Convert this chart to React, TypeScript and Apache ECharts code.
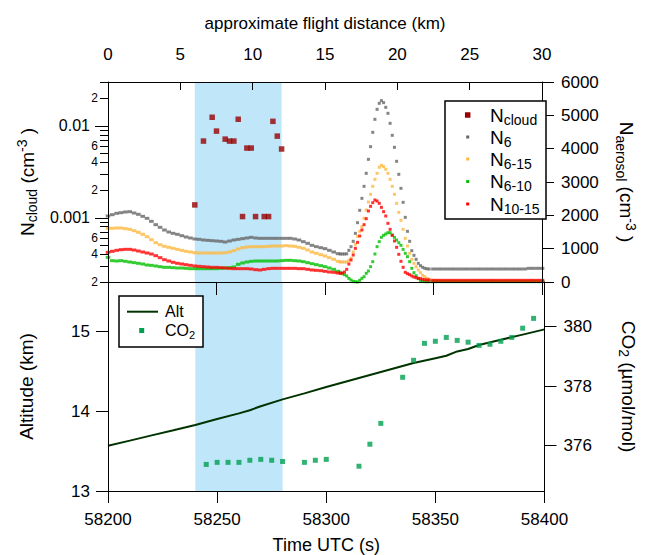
import React, { useEffect, useRef } from 'react';
import * as echarts from 'echarts';

// ---------- data ----------
// N_cloud (cm^-3), 2DS cloud particle counts
const cloudTime = [58240, 58244, 58248, 58250, 58254, 58256, 58258, 58260, 58262, 58264, 58266, 58268, 58272, 58274, 58276, 58278, 58280];
const cloudValue = [0.00138, 0.00683, 0.0124, 0.00877, 0.00717, 0.00683, 0.00683, 0.0118, 0.00103, 0.00573, 0.00573, 0.00103, 0.00103, 0.00103, 0.0112, 0.00773, 0.0056];

// aerosol time grid (s): 2 s before the event, 1 s during it, 2 s after
function range(a: number, b: number, step: number) {
  const r: number[] = [];
  for (let v = a; v <= b; v += step) r.push(v);
  return r;
}
const aerosolTime = [...range(58200, 58306, 2), ...range(58307, 58348, 1), ...range(58350, 58400, 2)];

const n6 = [
  1980, 2020, 2060, 2080, 2100, 2110, 2070, 2030, 1970, 1910, 1820, 1720, 1640, 1560, 1500, 1460, 1430, 1390, 1350, 1320,
  1290, 1280, 1260, 1250, 1240, 1230, 1220, 1200, 1230, 1260, 1280, 1300, 1320, 1340, 1320, 1310, 1310, 1310, 1310, 1310,
  1310, 1310, 1310, 1290, 1260, 1210, 1160, 1100, 1060, 1030, 1000, 950, 900, 850,
  840, 840, 840, 845, 950, 1060, 1220, 1460, 1780, 2150, 2510, 2870, 3260, 3680, 4060, 4490, 4880, 5180, 5360, 5440,
  5380, 5240, 5060, 4760, 4400, 4040, 3620, 3230, 2810, 2390, 1940, 1520, 1220, 940, 800, 680, 560, 490, 440, 410, 395, 390,
  390, 390, 390, 390, 390, 390, 390, 390, 390, 390, 390, 390, 390, 390, 390, 390, 390, 390, 390, 390, 390, 390, 410, 410, 410, 410,
];
const n615 = [
  1610, 1610, 1620, 1620, 1600, 1580, 1540, 1490, 1430, 1360, 1270, 1180, 1120, 1070, 1040, 1010, 980, 950, 920, 900,
  880, 870, 870, 870, 870, 870, 870, 880, 900, 940, 990, 1030, 1050, 1060, 1060, 1060, 1060, 1070, 1080, 1080,
  1080, 1090, 1080, 1070, 1040, 1010, 960, 900, 860, 820, 780, 730, 680, 620,
  600, 600, 600, 600, 650, 710, 900, 1130, 1370, 1520, 1660, 1910, 2160, 2400, 2630, 2870, 3080, 3260, 3440, 3500,
  3460, 3380, 3260, 3080, 2870, 2630, 2360, 2090, 1850, 1580, 1310, 1080, 860, 680, 560, 460, 360, 280, 200, 160, 110, 80,
  50, 40, 30, 30, 30, 30, 30, 30, 30, 30, 30, 30, 30, 30, 30, 30, 30, 30, 30, 30, 30, 30, 30, 30, 30, 30,
];
const n610 = [
  740, 640, 630, 640, 620, 600, 580, 560, 540, 510, 500, 480, 460, 440, 440, 430, 420, 420, 410, 400,
  400, 400, 400, 400, 400, 400, 410, 420, 430, 450, 530, 570, 600, 620, 630, 630, 630, 630, 630, 630,
  640, 650, 650, 640, 630, 610, 580, 550, 520, 490, 460, 420, 380, 320,
  280, 250, 220, 180, 110, 60, 20, 8, 0, 50, 110, 160, 260, 330, 460, 610, 840, 1060, 1210, 1340,
  1400, 1440, 1480, 1480, 1410, 1340, 1260, 1180, 1100, 980, 860, 760, 610, 410, 280, 190, 100, 40, 20, 10, 10, 10,
  10, 10, 10, 10, 10, 10, 10, 10, 10, 10, 10, 10, 10, 10, 10, 10, 10, 10, 10, 10, 10, 10, 10, 10, 10, 10,
];
const n1015 = [
  890, 920, 950, 970, 980, 980, 960, 930, 900, 870, 840, 790, 730, 670, 630, 590, 560, 540, 520, 500,
  480, 470, 460, 450, 440, 440, 430, 420, 410, 400, 400, 400, 400, 390, 370, 360, 380, 400, 410, 410,
  410, 410, 410, 410, 400, 400, 380, 360, 350, 340, 320, 300, 290, 270,
  260, 270, 300, 380, 540, 660, 810, 1010, 1190, 1380, 1560, 1720, 1900, 2130, 2270, 2380, 2460, 2430, 2360, 2240,
  2110, 1980, 1760, 1580, 1400, 1230, 1040, 830, 620, 440, 290, 250, 220, 180, 150, 130, 110, 100, 80, 70, 60, 60,
  50, 50, 50, 50, 50, 50, 50, 50, 50, 50, 50, 50, 50, 50, 50, 50, 50, 50, 50, 50, 50, 50, 50, 50, 50, 50,
];

// altitude (km)
const altTime = [58200, 58210, 58220, 58230, 58240, 58250, 58260, 58265, 58268, 58270, 58280, 58290, 58300, 58310, 58320, 58330, 58340, 58350, 58355, 58360, 58365, 58370, 58380, 58390, 58400];
const altValue = [13.566, 13.63, 13.695, 13.76, 13.826, 13.9, 13.97, 14.01, 14.04, 14.06, 14.145, 14.22, 14.3, 14.375, 14.45, 14.525, 14.6, 14.66, 14.69, 14.745, 14.775, 14.825, 14.89, 14.955, 15.02];

// CO2 (umol/mol)
const co2Time = [58245, 58250, 58255, 58260, 58265, 58270, 58275, 58280, 58290, 58295, 58300, 58315, 58320, 58325, 58335, 58340, 58345, 58350, 58355, 58360, 58365, 58370, 58375, 58380, 58385, 58390, 58395];
const co2Value = [375.37, 375.44, 375.44, 375.44, 375.51, 375.54, 375.51, 375.47, 375.44, 375.51, 375.54, 375.31, 376.05, 376.75, 378.3, 378.87, 379.44, 379.51, 379.64, 379.54, 379.48, 379.37, 379.41, 379.51, 379.64, 379.95, 380.28];

// shaded cloud interval (s)
const cloudBand = [58240, 58280];

// axis ticks / labels
const logLabelValues = [2e-4, 4e-4, 6e-4, 1e-3, 2e-3, 4e-3, 6e-3, 1e-2, 2e-2];
const logLabelTexts = ['2', '4', '6', '0.001', '2', '4', '6', '0.01', '2'];
const logMinorTicks = [2e-4, 3e-4, 4e-4, 5e-4, 6e-4, 7e-4, 8e-4, 9e-4, 1e-3, 2e-3, 3e-3, 4e-3, 5e-3, 6e-3, 7e-3, 8e-3, 9e-3, 1e-2, 2e-2, 3e-2];
const logMajorTicks = [1e-3, 1e-2];
const logRange = [2e-4, 0.03];
const altTicks = [13, 14, 15];
const altRange = [13, 15.6125];
const co2Ticks = [376, 378, 380];
const co2Range = [374.477, 381.503];

// ---------- styles ----------
const FONT = '"Liberation Sans", Arial, Helvetica, sans-serif';
const BLACK = '#000000';
const C_CLOUD = '#990000';
const C_N6 = '#666666';
const C_N615 = '#FFB83F';
const C_N610 = '#00C000';
const C_N1015 = '#FF0000';
const C_ALT = '#003300';
const C_CO2 = '#00A050';
const C_BAND = '#BFE6F9';

const L = Math.log10;
const plain = (v: number) => String(v);

const subRich = (size: number, sub: number, shift: number) => ({
  n: { fontSize: size, fontFamily: FONT, color: BLACK },
  s: { fontSize: sub, fontFamily: FONT, color: BLACK, padding: [shift, 0, 0, 0] },
  p: { fontSize: sub, fontFamily: FONT, color: BLACK, padding: [0, 0, shift, 0] },
});

const axisLineStyle = { show: true, onZero: false, lineStyle: { color: BLACK, width: 1 } };

function buildOption() {
  const pair = (vals: number[]) => aerosolTime.map((t, i) => [t, vals[i]]);
  const aerosolSize = (v: number[]) => (v[0] >= 58307 && v[0] <= 58348 ? 3 : [4.6, 3]);
  const aerosolSeries = (name: string, vals: number[], color: string) => ({
    name,
    type: 'scatter',
    xAxisIndex: 0,
    yAxisIndex: 2,
    symbol: 'rect',
    symbolSize: aerosolSize,
    itemStyle: { color },
    data: pair(vals),
    z: 3,
  });

  const legendRich = subRich(19, 14, 9);
  const topLegendRows = [
    { label: '{n|N}{s|cloud}', color: C_CLOUD, size: 5.5, y: 115 },
    { label: '{n|N}{s|6}', color: C_N6, size: 3, y: 137 },
    { label: '{n|N}{s|6-15}', color: C_N615, size: 3, y: 159 },
    { label: '{n|N}{s|6-10}', color: C_N610, size: 3, y: 181.5 },
    { label: '{n|N}{s|10-15}', color: C_N1015, size: 3, y: 204 },
  ];

  const graphic: any[] = [
    {
      type: 'rect', z: 100, shape: { x: 445, y: 101, width: 101, height: 118 },
      style: { fill: '#ffffff', stroke: BLACK, lineWidth: 1.5 },
    },
    ...topLegendRows.flatMap((r) => [
      {
        type: 'rect', z: 101,
        shape: { x: 467.7 - r.size / 2, y: r.y - r.size / 2, width: r.size, height: r.size },
        style: { fill: r.color },
      },
      {
        type: 'text', z: 101, x: 490, y: r.y,
        style: { text: r.label, rich: legendRich, verticalAlign: 'middle', align: 'left', fontFamily: FONT },
      },
    ]),
    {
      type: 'rect', z: 100, shape: { x: 119, y: 296, width: 84, height: 51 },
      style: { fill: '#ffffff', stroke: BLACK, lineWidth: 1.5 },
    },
    {
      type: 'line', z: 101, shape: { x1: 127, y1: 311.7, x2: 158, y2: 311.7 },
      style: { stroke: C_ALT, lineWidth: 2 },
    },
    {
      type: 'text', z: 101, x: 165, y: 311.7,
      style: { text: '{n|Alt}', rich: subRich(16, 11, 8), verticalAlign: 'middle', align: 'left' },
    },
    {
      type: 'rect', z: 101, shape: { x: 139.2, y: 328, width: 5, height: 5 },
      style: { fill: C_CO2 },
    },
    {
      type: 'text', z: 101, x: 165, y: 330.5,
      style: { text: '{n|CO}{s|2}', rich: subRich(16, 11, 8), verticalAlign: 'middle', align: 'left' },
    },
  ];

  const labelText = (v: number) => {
    for (let i = 0; i < logLabelValues.length; i++) {
      if (Math.abs(L(logLabelValues[i]) - v) < 1e-6) {
        const t = logLabelTexts[i];
        return t.indexOf('.') >= 0 ? `{maj|${t}}` : `{mn|${t}}`;
      }
    }
    return '';
  };

  return {
    animation: false,
    backgroundColor: '#ffffff',
    textStyle: { fontFamily: FONT, color: BLACK },
    grid: [
      { left: 108, top: 82, width: 437, height: 200, containLabel: false },
      { left: 108, top: 282, width: 437, height: 209, containLabel: false },
    ],
    xAxis: [
      {
        gridIndex: 0, type: 'value', position: 'bottom', min: 58200, max: 58400, interval: 50, z: 5,
        axisLine: axisLineStyle,
        axisTick: { show: true, inside: false, length: 13, lineStyle: { color: BLACK } },
        axisLabel: { show: false },
        splitLine: { show: false },
      },
      {
        gridIndex: 0, type: 'value', position: 'top', min: 0, max: 30, interval: 5, z: 5,
        axisLine: axisLineStyle,
        axisTick: { show: true, inside: true, length: 8, lineStyle: { color: BLACK } },
        axisLabel: { show: true, fontSize: 17, margin: 19, color: BLACK, fontFamily: FONT, formatter: plain },
        splitLine: { show: false },
        name: 'approximate flight distance (km)',
        nameLocation: 'middle',
        nameGap: 50,
        nameTextStyle: { fontSize: 17, color: BLACK, fontFamily: FONT },
      },
      {
        gridIndex: 1, type: 'value', position: 'bottom', min: 58200, max: 58400, interval: 50, z: 5,
        axisLine: axisLineStyle,
        axisTick: { show: true, inside: false, length: 12, lineStyle: { color: BLACK } },
        axisLabel: { show: true, fontSize: 17, margin: 20, color: BLACK, fontFamily: FONT, formatter: plain },
        splitLine: { show: false },
        name: 'Time UTC (s)',
        nameLocation: 'middle',
        nameGap: 45,
        nameTextStyle: { fontSize: 18, color: BLACK, fontFamily: FONT },
      },
    ],
    yAxis: [
      {
        gridIndex: 0, type: 'value', position: 'left', min: L(logRange[0]), max: L(logRange[1]), z: 5,
        axisLine: axisLineStyle,
        axisTick: { show: true, inside: false, length: 8, customValues: logMinorTicks.map(L), lineStyle: { color: BLACK } },
        axisLabel: {
          show: true, margin: 10, customValues: logLabelValues.map(L), formatter: labelText,
          rich: {
            maj: { fontSize: 16, fontFamily: FONT, color: BLACK, padding: [0, 8, 0, 0] },
            mn: { fontSize: 12, fontFamily: FONT, color: BLACK },
          },
        },
        splitLine: { show: false },
        name: '{n|N}{s|cloud}{n| (cm}{p|-3}{n| )}',
        nameLocation: 'middle',
        nameRotate: 90,
        nameGap: 62,
        nameTextStyle: { rich: subRich(19, 14, 10) },
      },
      {
        gridIndex: 0, type: 'value', position: 'left', min: L(logRange[0]), max: L(logRange[1]), z: 5,
        axisLine: { show: false },
        axisTick: { show: true, inside: false, length: 13, customValues: logMajorTicks.map(L), lineStyle: { color: BLACK } },
        axisLabel: { show: false },
        splitLine: { show: false },
      },
      {
        gridIndex: 0, type: 'value', position: 'right', min: 0, max: 6000, interval: 1000, z: 5,
        axisLine: axisLineStyle,
        axisTick: { show: true, inside: false, length: 12, lineStyle: { color: BLACK } },
        axisLabel: { show: true, fontSize: 17, margin: 19, color: BLACK, fontFamily: FONT, formatter: plain },
        splitLine: { show: false },
        name: '{n|N}{s|aerosol}{n| (cm}{p|-3}{n| )}',
        nameLocation: 'middle',
        nameRotate: -90,
        nameGap: 72,
        nameTextStyle: { rich: subRich(19, 14, 10) },
      },
      {
        gridIndex: 1, type: 'value', position: 'left', min: altRange[0], max: altRange[1], z: 5,
        axisLine: axisLineStyle,
        axisTick: { show: true, inside: false, length: 12, customValues: altTicks, lineStyle: { color: BLACK } },
        axisLabel: { show: true, fontSize: 17, margin: 18, customValues: altTicks, color: BLACK, fontFamily: FONT, formatter: plain },
        splitLine: { show: false },
        name: 'Altitude (km)',
        nameLocation: 'middle',
        nameRotate: 90,
        nameGap: 72,
        nameTextStyle: { fontSize: 19, color: BLACK, fontFamily: FONT },
      },
      {
        gridIndex: 1, type: 'value', position: 'right', min: co2Range[0], max: co2Range[1], z: 5,
        axisLine: axisLineStyle,
        axisTick: { show: true, inside: false, length: 12, customValues: co2Ticks, lineStyle: { color: BLACK } },
        axisLabel: { show: true, fontSize: 17, margin: 19, customValues: co2Ticks, color: BLACK, fontFamily: FONT, formatter: plain },
        splitLine: { show: false },
        name: '{n|CO}{s|2}{n| (µmol/mol)}',
        nameLocation: 'middle',
        nameRotate: -90,
        nameGap: 72,
        nameTextStyle: { rich: subRich(19, 14, 10) },
      },
    ],
    series: [
      aerosolSeries('N6', n6, C_N6),
      aerosolSeries('N6-15', n615, C_N615),
      aerosolSeries('N6-10', n610, C_N610),
      aerosolSeries('N10-15', n1015, C_N1015),
      {
        name: 'Ncloud',
        type: 'scatter',
        xAxisIndex: 0,
        yAxisIndex: 0,
        symbol: 'rect',
        symbolSize: 5.5,
        itemStyle: { color: C_CLOUD },
        data: cloudTime.map((t, i) => [t, L(cloudValue[i])]),
        z: 4,
        markArea: {
          silent: true,
          z: 1,
          itemStyle: { color: C_BAND },
          data: [[{ xAxis: cloudBand[0] }, { xAxis: cloudBand[1] }]],
        },
      },
      {
        name: 'Alt',
        type: 'line',
        xAxisIndex: 2,
        yAxisIndex: 3,
        showSymbol: false,
        symbol: 'none',
        lineStyle: { color: C_ALT, width: 2 },
        itemStyle: { color: C_ALT },
        data: altTime.map((t, i) => [t, altValue[i]]),
        z: 3,
        markArea: {
          silent: true,
          z: 1,
          itemStyle: { color: C_BAND },
          data: [[{ xAxis: cloudBand[0] }, { xAxis: cloudBand[1] }]],
        },
      },
      {
        name: 'CO2',
        type: 'scatter',
        xAxisIndex: 2,
        yAxisIndex: 4,
        symbol: 'rect',
        symbolSize: 5,
        itemStyle: { color: C_CO2 },
        data: co2Time.map((t, i) => [t, co2Value[i]]),
        z: 4,
      },
    ],
    graphic,
  };
}

export default function App() {
  const ref = useRef<HTMLDivElement>(null);
  useEffect(() => {
    if (!ref.current) return;
    const chart = echarts.init(ref.current, null, { renderer: 'svg' });
    chart.setOption(buildOption() as any);
    return () => {
      chart.dispose();
    };
  }, []);
  return (
    <div
      ref={ref}
      style={{ position: 'absolute', left: 0, top: 0, width: 646, height: 555, background: '#ffffff' }}
    />
  );
}
